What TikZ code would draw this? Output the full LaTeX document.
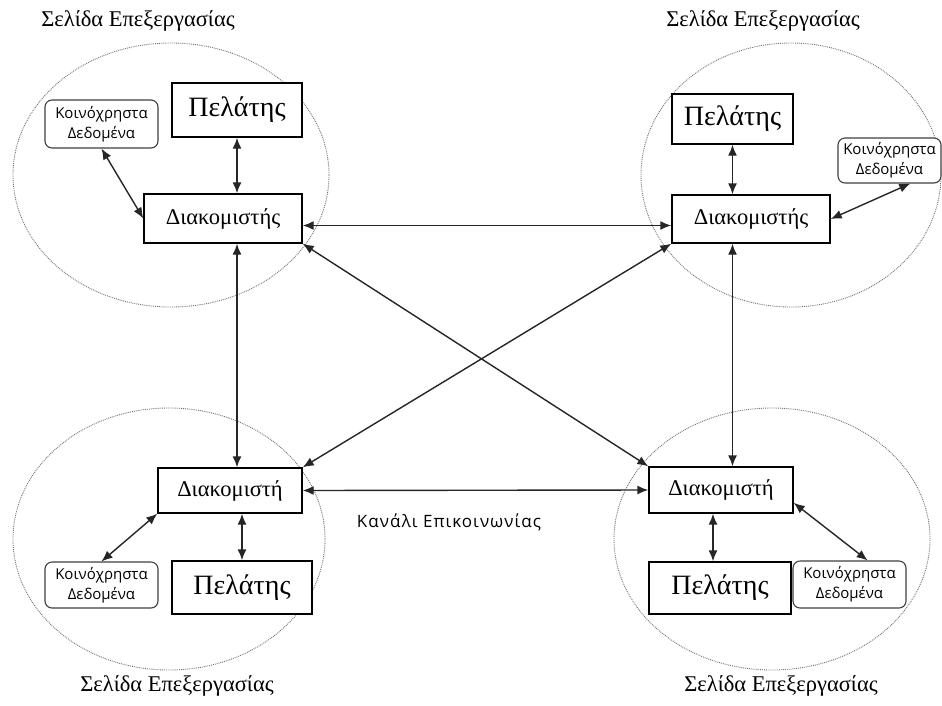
\documentclass[tikz,border=0pt]{standalone}
\usepackage{fontspec}
\setmainfont{Liberation Serif}
\newfontfamily\sansgr{Open Sans}
\newfontfamily\sanswide[LetterSpace=6]{Open Sans}
\usetikzlibrary{arrows.meta,calc}
\tikzset{
  pbox/.style={draw=black, line width=1.4pt, fill=white, inner sep=0pt,
    font=\fontsize{28}{32}\selectfont},
  sbox/.style={draw=black, line width=1.4pt, fill=white, inner sep=0pt,
    font=\fontsize{22.5}{26}\selectfont},
  dbox/.style={draw=black!75, line width=1.1pt, rounded corners=7pt, fill=white,
    inner sep=0pt, align=center, font=\sansgr\fontsize{15}{20}\selectfont},
  ttl/.style={inner sep=0pt, font=\fontsize{22.5}{26}\selectfont},
  conn/.style={draw=black!85, line width=1.4pt, {Latex[length=11pt,width=9pt]}-{Latex[length=11pt,width=9pt]}},
  site/.style={draw=black!55, densely dotted, line width=0.9pt}
}
\begin{document}
\begin{tikzpicture}[x=1pt,y=-1pt]
\useasboundingbox[fill=white] (0,0) rectangle (942,705);
% sites
\draw[site] (171,175) ellipse [x radius=158pt, y radius=132pt];
\draw[site] (791,175) ellipse [x radius=150pt, y radius=132pt];
\draw[site] (169,539) ellipse [x radius=156pt, y radius=131pt];
\draw[site] (772,539) ellipse [x radius=158pt, y radius=131pt];
% titles
\node[ttl] (tTL) at (138,21) {Σελίδα Επεξεργασίας};
\node[ttl] (tTR) at (763,21) {Σελίδα Επεξεργασίας};
\node[ttl] (tBL) at (177,686) {Σελίδα Επεξεργασίας};
\node[ttl] (tBR) at (781,686) {Σελίδα Επεξεργασίας};
% top left
\node[pbox, minimum width=130pt, minimum height=54pt] (pTL) at (237,110) {Πελάτης};
\node[dbox, minimum width=113pt, minimum height=48pt] (dTL) at (101.5,124) {Κοινόχρηστα\\Δεδομένα};
\node[sbox, minimum width=158pt, minimum height=49pt] (sTL) at (223,218.5) {Διακομιστής};
% top right
\node[pbox, minimum width=121pt, minimum height=50pt] (pTR) at (732.5,119) {Πελάτης};
\node[dbox, minimum width=103pt, minimum height=45pt] (dTR) at (889.5,160.5) {Κοινόχρηστα\\Δεδομένα};
\node[sbox, minimum width=158pt, minimum height=48pt] (sTR) at (751,219) {Διακομιστής};
% bottom left
\node[sbox, minimum width=144pt, minimum height=45pt] (sBL) at (230,490.5) {Διακομιστή};
\node[pbox, minimum width=140pt, minimum height=53pt] (pBL) at (242,587.5) {Πελάτης};
\node[dbox, minimum width=113pt, minimum height=46pt] (dBL) at (101.5,585) {Κοινόχρηστα\\Δεδομένα};
% bottom right
\node[sbox, minimum width=144pt, minimum height=46pt] (sBR) at (721,490) {Διακομιστή};
\node[pbox, minimum width=142pt, minimum height=52pt] (pBR) at (720,588) {Πελάτης};
\node[dbox, minimum width=113pt, minimum height=47pt] (dBR) at (849.5,584.5) {Κοινόχρηστα\\Δεδομένα};
% label
\node[inner sep=0pt, font=\sanswide\fontsize{17}{20}\selectfont] (lbl) at (449,522) {Κανάλι Επικοινωνίας};
% local connectors
\draw[conn] (pTL.south) -- (pTL.south |- sTL.north);
\draw[conn] (dTL.south) -- (sTL.west);
\draw[conn] (pTR.south) -- (pTR.south |- sTR.north);
\draw[conn] (dTR.-48) -- (sTR.east);
\draw[conn] (pBL.north |- sBL.south) -- (pBL.north);
\draw[conn] (dBL.north) -- (sBL.south west);
\draw[conn] ([xshift=-8pt]sBR.south) -- ([xshift=-8pt]sBR.south |- pBR.north);
\draw[conn] (sBR.-10) -- (dBR.53);
% channels
\draw[conn] ([yshift=-7pt]sTL.east) -- ([yshift=-7pt]sTL.east -| sTR.west);
\draw[conn] (pTL.south |- sTL.south) -- (pTL.south |- sBL.north);
\draw[conn] (pTR.south |- sTR.south) -- (pTR.south |- sBR.north);
\draw[conn] (sTL.south east) -- (sBR.north west);
\draw[conn] (sTR.south west) -- (sBL.north east);
\draw[conn] (sBL.east) -- (sBR.west);
\end{tikzpicture}
\end{document}
